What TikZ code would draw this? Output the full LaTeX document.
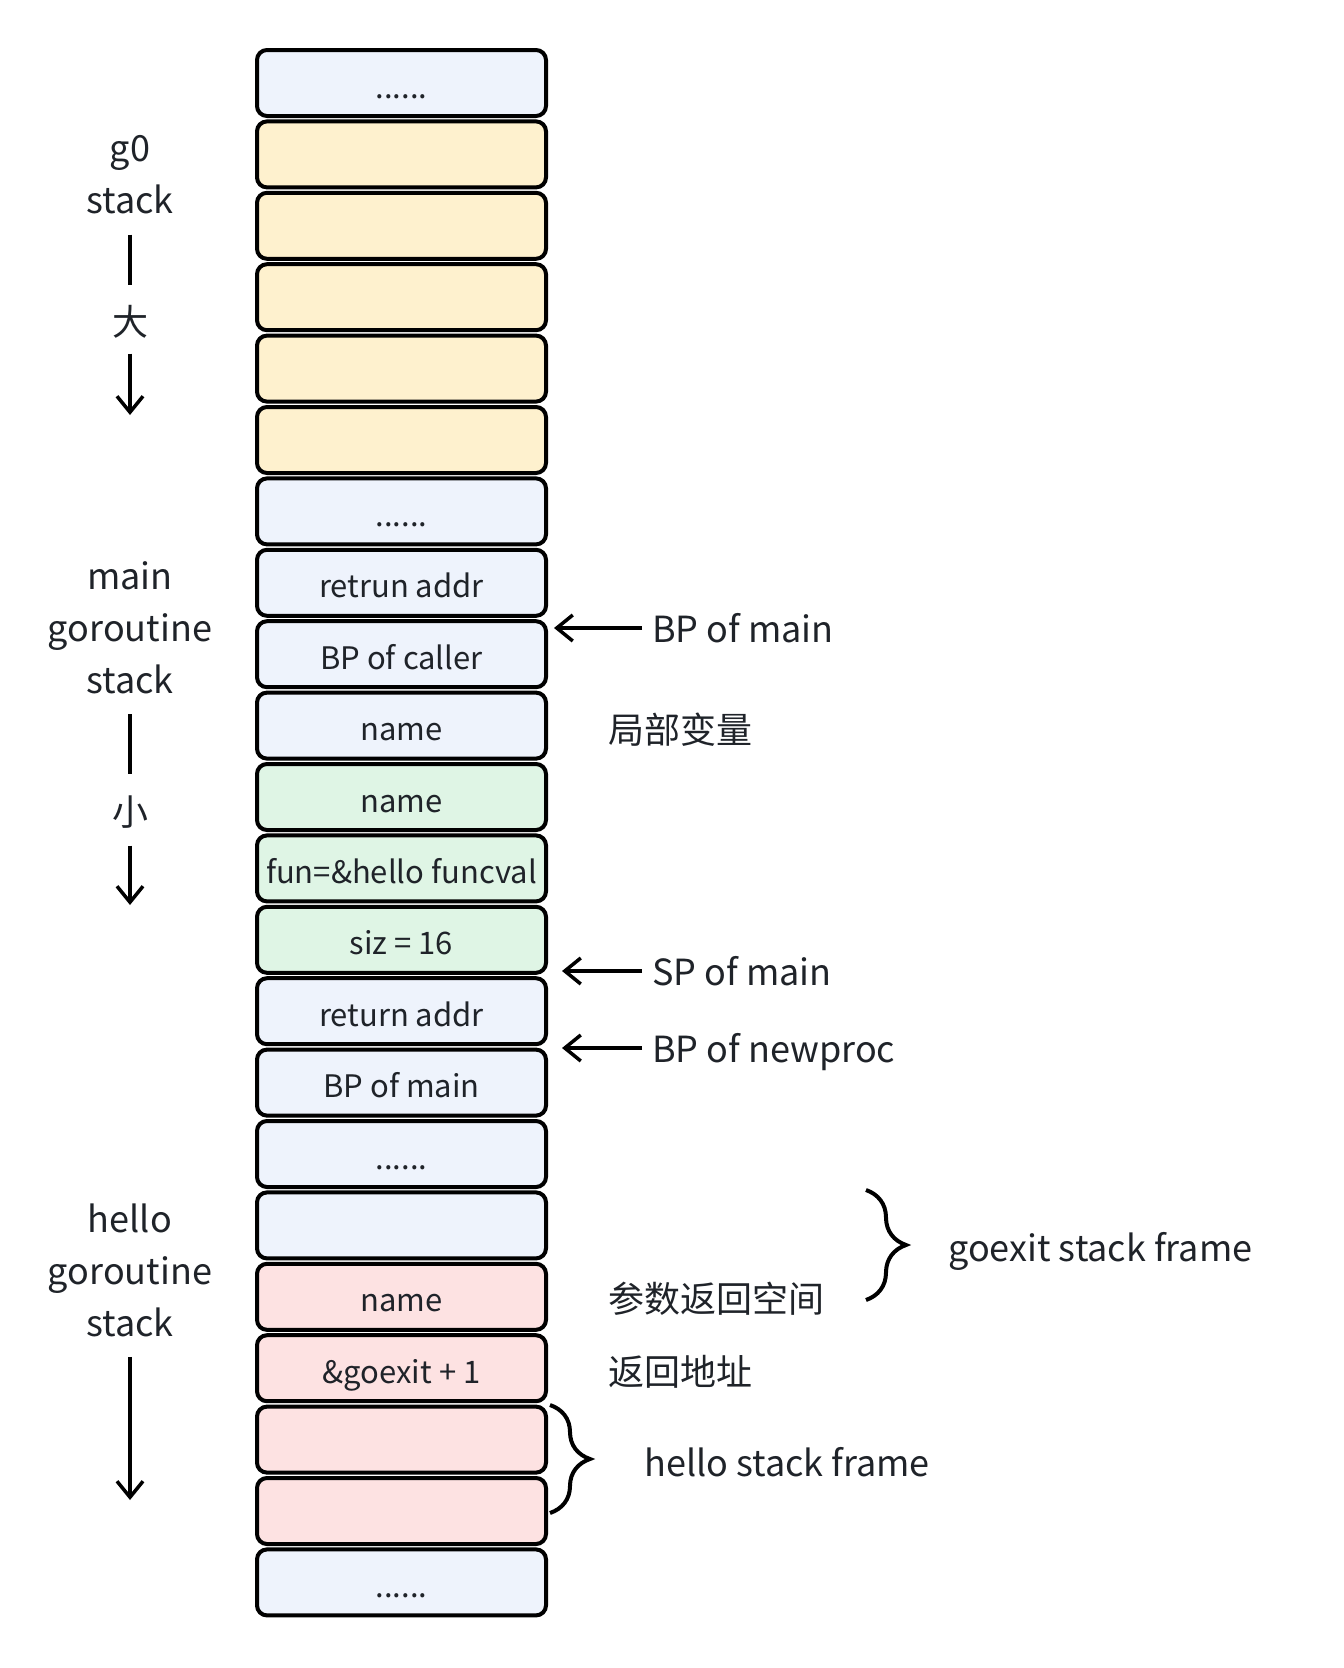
\documentclass[tikz,border=0pt]{standalone}
\usepackage{fontspec}
\setmainfont{Noto Sans CJK SC}
\usetikzlibrary{arrows.meta,decorations.pathreplacing}

\definecolor{cbleu}{HTML}{EEF3FC}
\definecolor{cjaune}{HTML}{FEF1CE}
\definecolor{cvert}{HTML}{DFF5E5}
\definecolor{crose}{HTML}{FDE2E2}
\definecolor{texte}{HTML}{1F2329}

\newcommand{\pointilles}{......}

\tikzset{
  case/.style={draw=black, line width=4pt, rounded corners=10pt, minimum width=289pt,
    minimum height=66pt, inner sep=0pt, text=texte, font=\fontsize{31}{37}\selectfont,
    text height=36pt, text depth=6pt},
  etiq/.style={text=texte, font=\fontsize{36}{52}\selectfont, align=center, inner sep=0pt},
  note/.style={text=texte, font=\fontsize{36}{42}\selectfont, anchor=west, inner sep=0pt,
    text height=35pt, text depth=7pt},
  fleche/.style={line width=3.5pt, -{Straight Barb[length=16pt,width=26pt,line width=3.5pt]}},
  trait/.style={line width=3.5pt},
  accolade/.style={line width=4pt, decorate, decoration={brace, amplitude=40pt, aspect=0.5}}
}

\begin{document}
\begin{tikzpicture}[x=1pt, y=-1pt]
    \useasboundingbox (0,0) rectangle (1344,1668);

    % Cases de la pile
    \foreach \i/\c/\t in {1/cbleu/\pointilles, 2/cjaune/{}, 3/cjaune/{}, 4/cjaune/{}, 5/cjaune/{},
        6/cjaune/{}, 7/cbleu/\pointilles, 8/cbleu/retrun addr, 9/cbleu/BP of caller, 10/cbleu/name,
        11/cvert/name, 12/cvert/fun=\&hello funcval, 13/cvert/siz = 16, 14/cbleu/return addr,
        15/cbleu/BP of main, 16/cbleu/\pointilles, 17/cbleu/{}, 18/crose/name, 19/crose/\&goexit + 1,
        20/crose/{}, 21/crose/{}, 22/cbleu/\pointilles}
        \node[case, fill=\c] (b\i) at (401.5,{83+(\i-1)*71.4}) {\t};

    % Etiquettes a gauche
    \node[etiq] (g0lbl) at (130,175) {g0\\stack};
    \node[etiq] (grand) at (130,322) {大};
    \coordinate (g0fin) at (130,415);
    \draw[trait, shorten <=20pt, shorten >=20pt] (g0lbl) -- (grand);
    \draw[fleche, shorten <=15pt] (grand) -- (g0fin);

    \node[etiq] (mainlbl) at (130,628) {main\\goroutine\\stack};
    \node[etiq] (petit) at (130,812) {小};
    \coordinate (mainfin) at (130,905);
    \draw[trait, shorten <=20pt, shorten >=21pt] (mainlbl) -- (petit);
    \draw[fleche, shorten <=17pt] (petit) -- (mainfin);

    \node[etiq] (hellolbl) at (130,1270) {hello\\goroutine\\stack};
    \coordinate (hellofin) at (130,1500);
    \draw[fleche, shorten <=20pt] (hellolbl) -- (hellofin);

    % Pointeurs a droite
    \node[note] (bpmain) at (652,628) {BP of main};
    \coordinate (bpmainp) at (554,628);
    \draw[fleche, shorten <=10pt] (bpmain.west) -- (bpmainp);

    \node[note] (spmain) at (652,971) {SP of main};
    \coordinate (spmainp) at (562,971);
    \draw[fleche, shorten <=10pt] (spmain.west) -- (spmainp);

    \node[note] (bpnew) at (652,1048) {BP of newproc};
    \coordinate (bpnewp) at (562,1048);
    \draw[fleche, shorten <=10pt] (bpnew.west) -- (bpnewp);

    % Notes
    \node[note] (locales) at (608,729) {局部变量};
    \node[note] (params) at (608,1298) {参数返回空间};
    \node[note] (retour) at (608,1371) {返回地址};

    % Accolades
    \draw[accolade] (866,1190) -- (866,1300);
    \node[note] (goexit) at (948,1247) {goexit stack frame};
    \draw[accolade] (550,1405) -- (550,1513);
    \node[note] (hellofr) at (644,1462) {hello stack frame};

\end{tikzpicture}
\end{document}
